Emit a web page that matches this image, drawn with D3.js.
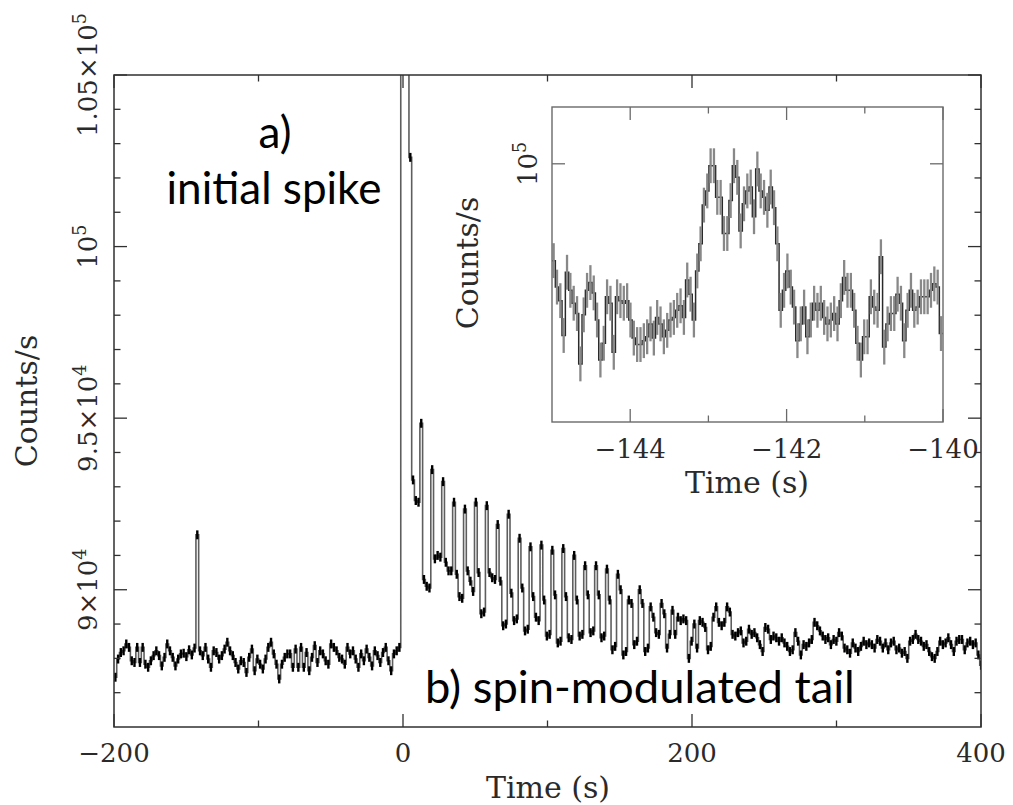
<!DOCTYPE html>
<html><head><meta charset="utf-8">
<script src="https://cdn.jsdelivr.net/npm/d3@7"></script>
<style>body{margin:0;background:#fff}svg{display:block}</style>
</head><body>
<svg id="c" width="1013" height="805"></svg>
<script>
// ---------------- DATA (count rates in units of 10^3 counts/s) ----------------
const mainBinStart = -200;      // s
const mainBinWidth = 1.89;      // s (quarter of the 7.56 s spin period)
// pre-flare bins, -200 s .. -1.6 s (precursor at ~ -142 s)
const preFlareCounts = [
  87.45,87.98,88.17,88.22,88.42,88.32,87.93,87.88,88.32,87.88,
  88.32,87.83,87.74,87.93,88.08,88.22,88.08,87.78,88.03,88.42,
  88.22,88.03,87.78,87.98,88.13,88.15,88.05,88.25,88.10,88.30,
  91.60,88.22,88.08,88.32,87.98,87.74,88.22,88.17,87.98,88.08,
  88.27,88.47,88.22,88.08,87.88,87.69,87.93,87.88,87.59,88.03,
  88.27,87.64,87.98,87.83,87.69,87.98,88.32,88.47,88.13,87.83,
  87.40,87.83,88.03,88.13,88.13,87.74,88.27,87.74,88.32,87.74,
  88.17,87.64,88.03,88.37,87.88,88.22,88.13,87.93,87.83,88.42,
  88.32,88.22,88.03,87.98,87.83,88.32,88.13,88.22,87.98,87.74,
  88.13,87.93,88.27,88.03,87.78,88.22,88.08,87.88,88.17,88.32,
  87.93,87.64,88.13,88.22,88.32
];
// initial spike (off scale) and spin-modulated tail, -1.6 s .. 400 s
const flareCounts = [
  185,170,128,102.6,93.2,92.6,92.55,
  94.85,90.3,90.1,90.05,  93.5,90.9,91.0,90.95,  93.15,90.8,90.55,90.55,
  92.55,90.45,89.8,89.75, 92.35,90.55,90.25,89.95, 92.55,90.5,89.3,89.35,
  92.45,90.5,90.35,90.3,  91.9,90.25,88.95,89.0,   92.2,89.9,89.1,89.15,
  91.5,90.05,88.8,88.85,  91.25,89.8,89.2,89.1,    91.3,89.7,88.65,88.7,
  91.15,89.85,88.45,88.5, 91.2,89.8,88.6,88.55,    91.0,89.7,88.65,88.7,
  90.7,89.85,88.75,88.8,  90.7,89.85,88.6,88.65,   90.6,89.7,88.25,88.35,
  90.45,90.0,88.1,88.2,   89.7,89.6,88.4,88.5,     90.0,89.6,88.2,88.3,
  89.5,89.2,88.75,88.7,   89.6,89.3,88.3,88.7,     89.4,88.7,89.2,89.1,
  89.15,89.1,88.0,88.5,
  89.0,88.3,89.1,89.05,88.9,88.25,88.35,89.2,89.5,89.05,
  88.95,89.05,89.5,89.35,88.7,88.65,88.75,88.8,88.45,88.5,
  88.85,88.7,88.75,88.6,88.4,88.2,88.9,88.85,88.55,88.65,
  88.6,88.5,88.6,88.45,88.35,88.2,88.25,88.75,88.5,88.1,
  88.4,88.35,88.45,88.55,89.05,88.95,88.8,88.65,88.55,88.6,
  88.4,88.55,88.5,88.75,88.65,88.3,88.25,88.15,88.45,88.3,
  88.2,88.35,88.5,88.4,88.45,88.4,88.3,88.55,88.5,88.3,
  88.45,88.25,88.45,88.5,88.25,88.3,88.15,88.2,88.0,88.5,
  88.55,88.7,88.55,88.5,88.35,88.4,88.2,88.05,88.0,88.2,
  88.5,88.4,88.45,88.6,88.4,88.2,88.5,88.55,88.55,88.25,
  88.45,88.5,88.4,88.45,88.1,87.8
];
const mainCountError = 0.13;

// inset: zoom on the precursor, -145 s .. -140 s
const insetBinStart = -145;
const insetBinWidth = 0.0427;
const insetCounts = [
  92.5,90.45,89.4,86.7,91.6,90.2,89.2,88.4,84.5,88.3,
  90.2,90.8,90.0,87.9,84.8,86.1,89.7,89.2,85.4,89.7,
  89.4,89.2,89.4,87.9,86.5,86.0,86.0,86.3,86.6,87.6,
  86.5,88.1,87.6,86.6,87.1,87.9,88.1,88.65,89.0,88.1,
  91.0,89.9,87.9,91.7,93.8,96.8,97.9,99.85,99.85,97.4,
  97.4,94.6,94.6,97.15,99.85,98.95,94.8,96.9,97.9,98.2,
  95.9,99.6,97.9,97.4,96.4,98.2,96.6,93.8,88.65,90.2,
  91.7,90.45,88.9,86.3,87.6,88.9,86.6,87.9,89.2,88.65,
  89.2,88.1,87.6,87.9,88.4,87.6,89.4,91.2,90.2,90.2,
  88.65,86.1,84.8,86.6,86.6,89.7,88.9,88.65,92.8,85.8,
  87.6,88.4,88.4,89.9,89.2,86.3,88.65,90.2,88.65,88.9,
  89.7,89.7,89.7,90.2,90.7,90.45,86.85
];
const insetCountError = 1.35;

// axes
const mainXMajor = [-200, 0, 200, 400];
const mainXLabels = ["\u2212200", "0", "200", "400"];
const mainXMinor = [-100, 100, 300];
const mainYMajor = [90, 95, 100, 105];
const mainYMantissa = ["9\u00d710", "9.5\u00d710", "10", "1.05\u00d710"];
const mainYExponent = ["4", "4", "5", "5"];
const mainYMinor = [87,88,89,91,92,93,94,96,97,98,99,101,102,103,104];
const insetXMajor = [-144, -142, -140];
const insetXLabels = ["\u2212144", "\u2212142", "\u2212140"];
const insetXMinor = [-143, -141];
const insetYMajor = [100];
const insetYMantissa = ["10"];
const insetYExponent = ["5"];

// ---------------- DRAWING ----------------
const svg = d3.select("#c");
const serif = "'DejaVu Serif', serif";
const ink = "#2a2a2a";

const x = d3.scaleLinear().domain([-200, 400]).range([114, 981]);
const y = d3.scaleLinear().domain([86, 105]).range([727, 75]);
const xi = d3.scaleLinear().domain([-145, -140]).range([552, 943]);
const yi = d3.scaleLinear().domain([80, 104.4]).range([422, 107]);

const defs = svg.append("defs");
defs.append("clipPath").attr("id","clipMain").append("rect")
  .attr("x",114).attr("y",75).attr("width",981-114).attr("height",727-75);
defs.append("clipPath").attr("id","clipInset").append("rect")
  .attr("x",552).attr("y",107).attr("width",943-552).attr("height",422-107);

function drawCurve(g, counts, start, width, err, sx, sy, stepColor, stepW, errColor, errW) {
  const pts = counts.map((v, i) => [start + i * width, v]);
  pts.push([start + counts.length * width, counts[counts.length - 1]]);
  const line = d3.line().x(d => sx(d[0])).y(d => sy(d[1])).curve(d3.curveStepAfter);
  const maxV = sy.domain()[1];
  g.append("path").attr("d", line(pts)).attr("fill","none")
    .attr("stroke", stepColor).attr("stroke-width", stepW).attr("stroke-linejoin","miter");
  g.append("g").selectAll("line").data(counts.map((v,i)=>({t:start+(i+0.5)*width, v})).filter(d=>d.v<maxV))
    .join("line")
    .attr("x1", d => sx(d.t)).attr("x2", d => sx(d.t))
    .attr("y1", d => sy(d.v - err)).attr("y2", d => sy(d.v + err))
    .attr("stroke", errColor).attr("stroke-width", errW);
}

function frameAndTicks(g, sx, sy, xMaj, xMin, yMaj, yMin, color, fw) {
  const [x0, x1] = sx.range(), [y1, y0] = sy.range();
  const maj = 13, mn = 6.5;
  const tk = g.append("g").attr("stroke", color).attr("stroke-width", 1.3);
  xMaj.forEach(v => { tk.append("line").attr("x1",sx(v)).attr("x2",sx(v)).attr("y1",y1).attr("y2",y1-maj);
                      tk.append("line").attr("x1",sx(v)).attr("x2",sx(v)).attr("y1",y0).attr("y2",y0+maj); });
  xMin.forEach(v => { tk.append("line").attr("x1",sx(v)).attr("x2",sx(v)).attr("y1",y1).attr("y2",y1-mn);
                      tk.append("line").attr("x1",sx(v)).attr("x2",sx(v)).attr("y1",y0).attr("y2",y0+mn); });
  yMaj.forEach(v => { tk.append("line").attr("y1",sy(v)).attr("y2",sy(v)).attr("x1",x0).attr("x2",x0+maj);
                      tk.append("line").attr("y1",sy(v)).attr("y2",sy(v)).attr("x1",x1).attr("x2",x1-maj); });
  yMin.forEach(v => { tk.append("line").attr("y1",sy(v)).attr("y2",sy(v)).attr("x1",x0).attr("x2",x0+mn);
                      tk.append("line").attr("y1",sy(v)).attr("y2",sy(v)).attr("x1",x1).attr("x2",x1-mn); });
  g.append("rect").attr("x",x0).attr("y",y0).attr("width",x1-x0).attr("height",y1-y0)
    .attr("fill","none").attr("stroke",color).attr("stroke-width",fw);
}

function powerLabel(g, px, py, mant, expo, size) {
  const t = g.append("text").attr("transform", `translate(${px},${py}) rotate(-90)`)
    .attr("text-anchor","middle").attr("font-family", serif).attr("font-size", size).attr("fill", ink);
  t.append("tspan").text(mant);
  t.append("tspan").attr("dy", -size*0.42).attr("font-size", size*0.68).text(expo);
}

// ---- main panel ----
const gMain = svg.append("g");
drawCurve(gMain.append("g").attr("clip-path","url(#clipMain)"),
  preFlareCounts.concat(flareCounts), mainBinStart, mainBinWidth, mainCountError,
  x, y, "#5e5e5e", 1.6, "#000", 2.4);
frameAndTicks(gMain, x, y, mainXMajor, mainXMinor, mainYMajor, mainYMinor, "#303030", 1.5);

mainXMajor.forEach((v,i) => gMain.append("text").attr("x", x(v)).attr("y", 762)
  .attr("text-anchor","middle").attr("font-family",serif).attr("font-size",26).attr("fill",ink).text(mainXLabels[i]));
mainYMajor.forEach((v,i) => powerLabel(gMain, 97, y(v), mainYMantissa[i], mainYExponent[i], 26));
gMain.append("text").attr("x", 548).attr("y", 798).attr("text-anchor","middle")
  .attr("font-family",serif).attr("font-size",30).attr("fill",ink).text("Time (s)");
gMain.append("text").attr("transform","translate(37,401) rotate(-90)").attr("text-anchor","middle")
  .attr("font-family",serif).attr("font-size",30).attr("fill",ink).text("Counts/s");

// ---- inset ----
const gIn = svg.append("g");
gIn.append("rect").attr("x",552).attr("y",107).attr("width",943-552).attr("height",422-107).attr("fill","#fff");
drawCurve(gIn.append("g").attr("clip-path","url(#clipInset)"),
  insetCounts, insetBinStart, insetBinWidth, insetCountError,
  xi, yi, "#2a2a2a", 1.5, "#888", 2.3);
frameAndTicks(gIn, xi, yi, insetXMajor, insetXMinor, insetYMajor, [], "#6a6a6a", 1.4);
insetXMajor.forEach((v,i) => gIn.append("text").attr("x", xi(v)).attr("y", 458)
  .attr("text-anchor","middle").attr("font-family",serif).attr("font-size",26).attr("fill",ink).text(insetXLabels[i]));
insetYMajor.forEach((v,i) => powerLabel(gIn, 537, yi(v), insetYMantissa[i], insetYExponent[i], 26));
gIn.append("text").attr("x", 747).attr("y", 493).attr("text-anchor","middle")
  .attr("font-family",serif).attr("font-size",30).attr("fill",ink).text("Time (s)");
gIn.append("text").attr("transform","translate(478,263) rotate(-90)").attr("text-anchor","middle")
  .attr("font-family",serif).attr("font-size",30).attr("fill",ink).text("Counts/s");

// ---- annotations ----
const sans = "Lato, 'Open Sans', sans-serif";
function fitText(txt, px, py, anchor, targetW) {
  const t = svg.append("text").attr("x",px).attr("y",py).attr("text-anchor",anchor)
    .attr("font-family",sans).attr("font-size",40).attr("fill","#000").text(txt);
  const w = t.node().getComputedTextLength();
  const fs = 40 * targetW / w;
  t.attr("font-size", fs);
  return fs;
}
const fs1 = fitText("initial spike", 274, 204, "middle", 215);
svg.append("text").attr("x",275).attr("y",148).attr("text-anchor","middle")
  .attr("font-family",sans).attr("font-size",fs1).attr("fill","#000").text("a)");
fitText("b) spin-modulated tail", 425, 703, "start", 430);
</script>
</body></html>
